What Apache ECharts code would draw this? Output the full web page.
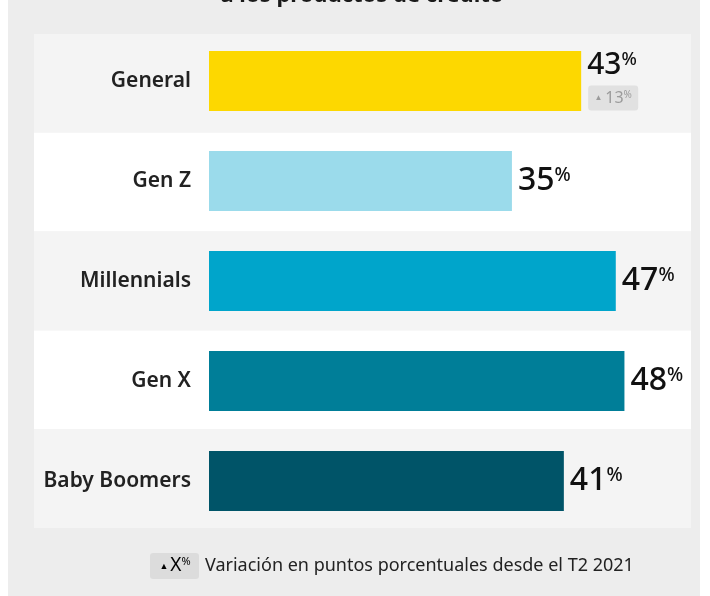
<!DOCTYPE html>
<html>
<head>
<meta charset="utf-8">
<script src="https://cdn.jsdelivr.net/npm/echarts@6/dist/echarts.min.js"></script>
<style>
  html, body { margin: 0; padding: 0; background: #ffffff; }
  #chart { width: 710px; height: 596px; }
</style>
</head>
<body>
<div id="chart"></div>
<script>
// Generations and their share (%)
const categories = ['General', 'Gen Z', 'Millennials', 'Gen X', 'Baby Boomers'];
const values = [43, 35, 47, 48, 41];
// Change in percentage points since Q2 2021 (only shown for the overall group)
const changes = [13, null, null, null, null];
const barColors = ['#FDD800', '#9BDBEB', '#00A5CB', '#007E98', '#005468'];

const FONT = '"Noto Sans", sans-serif';
const INK = '#111111';
const BADGE_BG = '#dcdcdc';
const BADGE_INK = '#8a8a8a';
// rectangle with slightly rounded corners
const BADGE_SHAPE = 'path://M3,0H47A3,3,0,0,1,50,3V22A3,3,0,0,1,47,25H3A3,3,0,0,1,0,22V3A3,3,0,0,1,3,0Z';

// rich styles for the small grey "▲ n%" badge text
const badgeRich = {
  t: { fontFamily: FONT, fontSize: 8, color: BADGE_INK, padding: [0, 3, 0, 0] },
  n: { fontFamily: FONT, fontSize: 16, color: BADGE_INK },
  p: { fontFamily: FONT, fontSize: 10, color: BADGE_INK, verticalAlign: 'top' }
};

const chart = echarts.init(document.getElementById('chart'), null, { renderer: 'canvas' });

const barData = values.map((v, i) => {
  const item = { value: v, itemStyle: { color: barColors[i] } };
  if (changes[i] != null) {
    // leave room for the change badge under the value
    item.label = { offset: [0, -16] };
  }
  return item;
});

const badgeData = [];
changes.forEach((c, i) => {
  if (c != null) badgeData.push({ value: [values[i], categories[i]], change: c });
});

const option = {
  backgroundColor: '#ffffff',
  animation: false,
  graphic: [
    { type: 'rect', z: -10, silent: true, shape: { x: 8, y: 0, width: 692, height: 596 }, style: { fill: '#ededed' } },
    {
      type: 'text', z: 10, x: 362, y: 7,
      style: { text: 'a los productos de crédito', font: 'bold 22px ' + FONT, fill: '#1a1a1a', textAlign: 'center', textVerticalAlign: 'bottom' }
    },
    {
      type: 'rect', z: 10, shape: { x: 150, y: 553, width: 49, height: 26, r: 3 }, style: { fill: BADGE_BG }
    },
    {
      type: 'text', z: 11, x: 175, y: 566,
      style: {
        text: '{t|▲}{n|X}{p|%}', textAlign: 'center', textVerticalAlign: 'middle',
        rich: {
          t: Object.assign({}, badgeRich.t, { fontSize: 9, padding: [0, 2, 0, 0] }),
          n: Object.assign({}, badgeRich.n, { fontSize: 19 }),
          p: Object.assign({}, badgeRich.p, { fontSize: 11 })
        }
      }
    },
    {
      type: 'text', z: 10, x: 205, y: 566,
      style: { text: 'Variación en puntos porcentuales desde el T2 2021', font: '18px ' + FONT, fill: '#222222', textVerticalAlign: 'middle' }
    }
  ],
  grid: [
    // row backgrounds
    { left: 34, right: 19, top: 34, height: 494 },
    // bars
    { left: 209, width: 432.75, top: 31, height: 500 }
  ],
  xAxis: [
    { gridIndex: 0, type: 'value', show: false, min: 0, max: 1 },
    { gridIndex: 1, type: 'value', show: false, min: 0, max: 50 }
  ],
  yAxis: [
    {
      gridIndex: 0, type: 'category', data: categories, inverse: true,
      axisLine: { show: false }, axisTick: { show: false }, axisLabel: { show: false },
      splitLine: { show: false },
      splitArea: { show: true, areaStyle: { color: ['#f4f4f4', '#ffffff'] } }
    },
    {
      gridIndex: 1, type: 'category', data: categories, inverse: true,
      axisLine: { show: false }, axisTick: { show: false },
      axisLabel: { margin: 18, fontFamily: FONT, fontSize: 21, fontWeight: 600, color: '#222222' }
    }
  ],
  series: [
    {
      type: 'bar',
      xAxisIndex: 1, yAxisIndex: 1,
      barWidth: 60,
      silent: true,
      data: barData,
      label: {
        show: true,
        position: 'right',
        distance: 6,
        formatter: (p) => {
          return changes[p.dataIndex] != null
            ? '{vs|' + p.value + '}{ps|%}'
            : '{v|' + p.value + '}{p|%}';
        },
        rich: {
          v: { fontFamily: FONT, fontSize: 32, fontWeight: 500, lineHeight: 40, color: INK },
          p: { fontFamily: FONT, fontSize: 19, fontWeight: 500, verticalAlign: 'top', padding: [5, 0, 0, 0], color: INK },
          vs: { fontFamily: FONT, fontSize: 30, fontWeight: 500, lineHeight: 36, color: INK },
          ps: { fontFamily: FONT, fontSize: 18, fontWeight: 500, verticalAlign: 'top', padding: [4, 0, 0, 0], color: INK }
        }
      }
    },
    {
      // change badge sitting just past the end of the bar
      type: 'scatter',
      xAxisIndex: 1, yAxisIndex: 1,
      silent: true,
      z: 5,
      symbol: BADGE_SHAPE,
      symbolKeepAspect: false,
      symbolSize: [50, 25],
      symbolOffset: [32, 17],
      itemStyle: { color: BADGE_BG },
      data: badgeData,
      label: {
        show: true,
        position: 'inside',
        formatter: (p) => '{t|▲}{n|' + p.data.change + '}{p|%}',
        rich: badgeRich
      }
    }
  ]
};

chart.setOption(option);
</script>
</body>
</html>
